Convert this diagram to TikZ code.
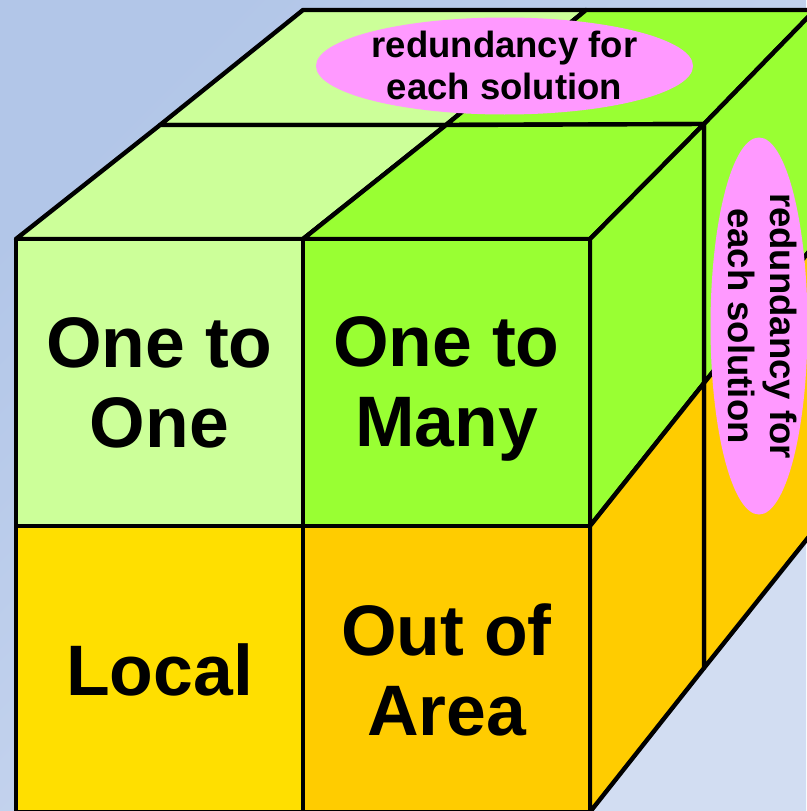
\documentclass[tikz,border=0pt]{standalone}
\usepackage{fontspec}
\setmainfont{Liberation Sans}
\usetikzlibrary{shapes.geometric}
\definecolor{bgA}{HTML}{B2C6E8}
\definecolor{bgB}{HTML}{D2DDF2}
\definecolor{lgreen}{HTML}{CCFF99}
\definecolor{bgreen}{HTML}{99FF33}
\definecolor{yel}{HTML}{FFDF00}
\definecolor{orng}{HTML}{FFCC00}
\definecolor{pinkell}{HTML}{FF99FF}
\begin{document}
\begin{tikzpicture}[x=1pt,y=-1pt,
  face/.style={draw=black, line width=4.4pt, line join=round},
  big/.style={font=\fontsize{71.5}{80}\selectfont\bfseries, align=center, inner sep=0pt},
  small/.style={font=\fontsize{36.5}{42}\selectfont\bfseries, align=center, inner sep=0pt},
  blob/.style={ellipse, fill=pinkell, draw=none, minimum width=377pt, minimum height=97pt, inner sep=0pt}]
\useasboundingbox (0,0) rectangle (806,811);
\shade[top color=bgA, bottom color=bgB, shading angle=45] (0,0) rectangle (806,811);
% front face
\coordinate (A0) at (16,239); \coordinate (A1) at (303,239); \coordinate (A2) at (590,239);
\coordinate (B0) at (16,526); \coordinate (B1) at (303,526); \coordinate (B2) at (590,526);
\coordinate (C0) at (16,812); \coordinate (C1) at (303,812); \coordinate (C2) at (590,812);
% top face layers
\coordinate (P0) at (160,125); \coordinate (P1) at (446,125); \coordinate (P2) at (704,124);
\coordinate (Q0) at (303,10); \coordinate (Q1) at (586,10); \coordinate (Q2) at (815,10);
% right face
\coordinate (R1) at (704,383); \coordinate (R2) at (704,668);
\coordinate (S1) at (815,244); \coordinate (S2) at (815,529);
% top face
\filldraw[face, fill=lgreen] (Q0) -- (Q1) -- (P1) -- (P0) -- cycle;
\filldraw[face, fill=bgreen] (Q1) -- (Q2) -- (P2) -- (P1) -- cycle;
\filldraw[face, fill=lgreen] (P0) -- (P1) -- (A1) -- (A0) -- cycle;
\filldraw[face, fill=bgreen] (P1) -- (P2) -- (A2) -- (A1) -- cycle;
% right face
\filldraw[face, fill=bgreen] (P2) -- (Q2) -- (S1) -- (R1) -- cycle;
\filldraw[face, fill=orng] (R1) -- (S1) -- (S2) -- (R2) -- cycle;
\filldraw[face, fill=bgreen] (A2) -- (P2) -- (R1) -- (B2) -- cycle;
\filldraw[face, fill=orng] (B2) -- (R1) -- (R2) -- (C2) -- cycle;
% front face cells
\filldraw[face, fill=lgreen] (A0) -- (A1) -- (B1) -- (B0) -- cycle;
\filldraw[face, fill=bgreen] (A1) -- (A2) -- (B2) -- (B1) -- cycle;
\filldraw[face, fill=yel] (B0) -- (B1) -- (C1) -- (C0) -- cycle;
\filldraw[face, fill=orng] (B1) -- (B2) -- (C2) -- (C1) -- cycle;
% labels
\node[big] (l11) at (159.5,383) {One to\\One};
\node[big] (l12) at (446.5,389) {One to\\Many};
\node[big] (l21) at (159.5,670) {Local};
\node[big] (l22) at (446.5,669.5) {Out of\\Area};
% ellipses
\node[blob] (e1) at (504.5,66) {};
\node[small] (t1) at (504.5,65) {redundancy for\\each solution};
\node[blob, rotate=-90] (e2) at (759,326) {};
\node[small, rotate=-90] (t2) at (763,326) {redundancy for\\each solution};
\end{tikzpicture}
\end{document}
